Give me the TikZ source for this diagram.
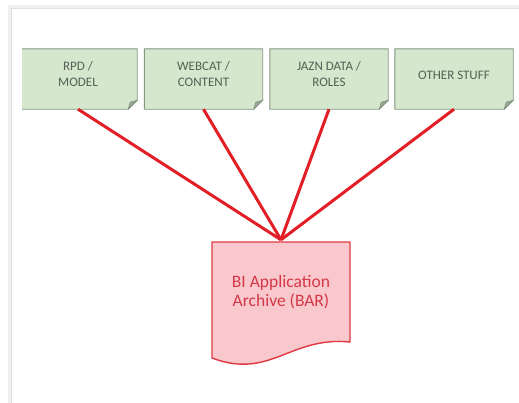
\documentclass[tikz,border=0pt]{standalone}
\usepackage{fontspec}
\setmainfont{Carlito}
\usetikzlibrary{calc}

\definecolor{notefill}{RGB}{213,232,205}
\definecolor{noteedge}{RGB}{135,148,133}
\definecolor{notefold}{RGB}{150,170,145}
\definecolor{notetext}{RGB}{85,95,85}
\definecolor{linkred}{RGB}{226,30,38}
\definecolor{barfill}{RGB}{248,200,205}
\definecolor{baredge}{RGB}{224,56,66}
\definecolor{bartext}{RGB}{212,56,70}

\tikzset{
  notebox/.style={minimum width=118pt, minimum height=60pt, inner sep=0pt, draw=none},
  notelabel/.style={text=notetext, align=center, inner sep=0pt,
    font=\fontsize{13}{16}\selectfont},
  noteshape/.style={fill=notefill, draw=noteedge, line width=0.9pt, line join=miter},
  foldshape/.style={fill=notefold, draw=noteedge, line width=0.6pt},
  link/.style={draw=linkred, line width=3pt},
  barbox/.style={minimum width=138pt, minimum height=116pt, inner sep=0pt, draw=none},
  barshape/.style={fill=barfill, draw=baredge, line width=1.4pt, line join=miter},
  barlabel/.style={text=bartext, align=center, inner sep=0pt,
    font=\fontsize{17.5}{19.5}\selectfont},
  pageshadow/.style={draw=black!6, line width=3pt},
  pageedge/.style={draw=black!12, line width=0.8pt},
}

\begin{document}
\begin{tikzpicture}[x=1pt, y=-1pt]
  \useasboundingbox (0,0) rectangle (519,402);

  % page edge with its soft shadow
  \draw[pageshadow] (9.5,410) -- (9.5,6.5) -- (530,6.5);
  \draw[pageedge] (11,410) -- (11,8.5) -- (530,8.5);

  % source boxes
  \node[notebox] (rpd)    at (78,79)    {};
  \node[notebox] (webcat) at (203.5,79) {};
  \node[notebox] (jazn)   at (329,79)   {};
  \node[notebox] (other)  at (454,79)   {};

  \begin{scope}
    \clip (22,0) rectangle (519,402);
    \foreach \n in {rpd,webcat,jazn,other} {
      \draw[noteshape] (\n.north west) -- (\n.north east)
        -- ([yshift=9pt]\n.south east) -- ([xshift=-9pt]\n.south east)
        -- (\n.south west) -- cycle;
      \draw[foldshape] ([yshift=9pt]\n.south east) -- ([xshift=-9pt]\n.south east)
        -- ([xshift=-7pt,yshift=7pt]\n.south east) -- cycle;
    }
  \end{scope}

  \node[notelabel] (rpdtxt)    at ([yshift=5pt]rpd.center)    {RPD /\\MODEL};
  \node[notelabel] (webcattxt) at ([yshift=5pt]webcat.center) {WEBCAT /\\CONTENT};
  \node[notelabel] (jazntxt)   at ([yshift=5pt]jazn.center)   {JAZN DATA /\\ROLES};
  \node[notelabel] (othertxt)  at ([yshift=4pt]other.center)  {OTHER STUFF};

  % archive document
  \node[barbox] (bar) at (281,300) {};
  \draw[barshape] (212,242) -- (350,242) -- (350,342)
    .. controls (290,336) and (270,380) .. (212,358) -- cycle;
  \node[barlabel] (bartxt) at (281,292) {BI Application\\Archive (BAR)};

  % connectors
  \foreach \n in {rpd,webcat,jazn,other}
    \draw[link] (\n.south) -- ([yshift=2pt]bar.north);
\end{tikzpicture}
\end{document}
